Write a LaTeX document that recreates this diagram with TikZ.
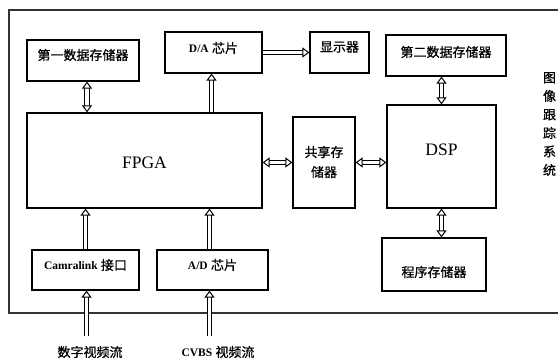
\documentclass[tikz,border=0pt]{standalone}
\usepackage{fontspec}
\setmainfont{Liberation Serif}
\newfontfamily\cjk[FakeBold=0.8]{Noto Sans CJK SC}
\newcommand\latf{\fontsize{11.5}{13}\selectfont\bfseries}
\usetikzlibrary{arrows.meta}
\begin{document}
\begin{tikzpicture}[x=1pt,y=-1pt,
  box/.style={draw, line width=1.2pt, inner sep=0pt},
  lab/.style={inner sep=0pt, font=\fontsize{13}{15}\selectfont},
  big/.style={inner sep=0pt, font=\fontsize{17.5}{20}\selectfont},
  hd/.tip={Triangle[width=10pt, length=7pt, line width=1pt, fill=white]},
  dar/.style={double, double distance=3.5pt, line width=1pt, {hd}-{hd}},
  sar/.style={double, double distance=3.5pt, line width=1pt, -{hd}},
]
\useasboundingbox (0,0) rectangle (558,358);
% outer frame
\draw[line width=1.2pt, draw=black!80] (558,10) -- (9,10) -- (9,313) -- (558,313);

% boxes
\node[box, minimum width=112pt, minimum height=41pt] (first) at (83,60.5) {};
\node[box, minimum width=97pt, minimum height=41pt] (da) at (213.5,52.5) {};
\node[box, minimum width=59pt, minimum height=41pt] (disp) at (339.5,52.5) {};
\node[box, minimum width=120pt, minimum height=41pt] (second) at (446,55.5) {};
\node[box, minimum width=235pt, minimum height=95pt] (fpga) at (144.5,160.5) {};
\node[box, minimum width=62pt, minimum height=91pt] (share) at (324,162.5) {};
\node[box, minimum width=109pt, minimum height=103pt] (dsp) at (441.5,156.5) {};
\node[box, minimum width=104pt, minimum height=53pt] (prog) at (434,264.5) {};
\node[box, minimum width=107pt, minimum height=40pt] (cam) at (85.5,270) {};
\node[box, minimum width=111pt, minimum height=40pt] (ad) at (212.5,270) {};

% labels
\node[lab] (firstt) at (83,55) {\cjk 第一数据存储器};
\node[lab] (dat) at (213.5,48) {{\latf D/A} \cjk 芯片};
\node[lab] (dispt) at (339.5,47) {\cjk 显示器};
\node[lab] (secondt) at (446,52) {\cjk 第二数据存储器};
\node[big] (fpgat) at (144.5,163) {FPGA};
\node[lab, align=center, font=\fontsize{13}{20}\selectfont] (sharet) at (324,162) {\cjk 共享存\\\cjk 储器};
\node[big] (dspt) at (441.5,150) {DSP};
\node[lab] (progt) at (434,272) {\cjk 程序存储器};
\node[lab] (camt) at (85.5,265) {{\latf Camralink} \cjk 接口};
\node[lab] (adt) at (212.5,265) {{\latf A/D} \cjk 芯片};
\node[lab] (in1) at (90,352) {\cjk 数字视频流};
\node[lab] (in2) at (218,352) {{\latf CVBS} \cjk 视频流};
\node[lab, align=center, font=\fontsize{13}{18.5}\selectfont] (title) at (549.5,124) {\cjk 图\\\cjk 像\\\cjk 跟\\\cjk 踪\\\cjk 系\\\cjk 统};

% connectors
\coordinate (s1) at (86.5,336);
\coordinate (s2) at (209.5,336);
\draw[dar] ([xshift=4pt]first.south) -- ([xshift=4pt]first.south |- fpga.north);
\draw[sar] ([xshift=-2pt]da.south |- fpga.north) -- ([xshift=-2pt]da.south);
\draw[sar] (da.east) -- (disp.west);
\draw[dar] (dsp.north) -- (dsp.north |- second.south);
\draw[dar] (fpga.east |- share.west) -- (share.west);
\draw[dar] (share.east) -- (share.east -| dsp.west);
\draw[dar] (dsp.south) -- (dsp.south |- prog.north);
\draw[sar] (cam.north) -- (cam.north |- fpga.south);
\draw[sar] ([xshift=-3pt]ad.north) -- ([xshift=-3pt]ad.north |- fpga.south);
\draw[sar] (s1) -- (s1 |- cam.south);
\draw[sar] (s2) -- (s2 |- ad.south);
\end{tikzpicture}
\end{document}
